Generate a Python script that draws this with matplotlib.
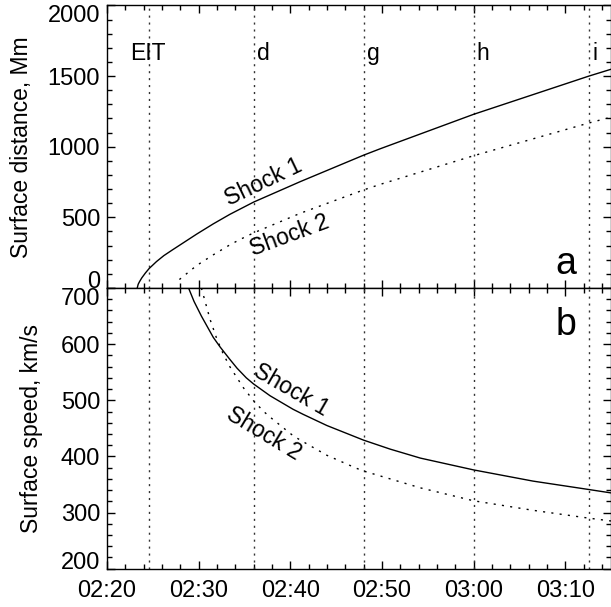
import matplotlib
matplotlib.use("Agg")
import matplotlib.pyplot as plt

plt.rcParams['font.family'] = ['Liberation Sans', 'DejaVu Sans']

# time in minutes after 02:20 UT
tick_minutes = [0, 10, 20, 30, 40, 50]
tick_labels = ["02:20", "02:30", "02:40", "02:50", "03:00", "03:10"]

# vertical event lines
event_times = [4.6, 16.0, 28.0, 40.0, 52.6]
event_names = ["EIT", "d", "g", "h", "i"]

# panel a: surface distance (Mm)
t_dist1 = [3.3, 3.4, 3.55, 3.8, 4.2, 4.6, 5.4, 6.2, 7.1, 8.0, 9.8, 11.6, 13.4, 16.0,
           21.1, 28.0, 29.8, 40.0, 52.6, 55.0]
dist1 = [0, 26, 45, 72, 107, 138, 187, 229, 268, 306, 382, 454, 521, 608,
         753, 940, 985, 1229, 1500, 1548]
t_dist2 = [7.9, 9.8, 11.6, 13.4, 14.5, 16.0, 21.1, 28.0, 29.8, 40.0, 52.6, 55.0]
dist2 = [60, 160, 235, 305, 343, 390, 529, 694, 733, 936, 1168, 1209]

# panel b: surface speed (km/s)
t_speed1 = [8.9, 9.5, 10.3, 11.6, 12.34, 13.4, 14.2, 15.2, 16.0, 17.8, 20.3, 21.4, 24.0,
            28.0, 30.9, 34.2, 40.0, 46.5, 52.6, 55.0]
speed1 = [700, 676, 650, 612, 595, 573, 557, 540, 529, 508, 484, 475, 455,
          429, 413, 397, 376, 356, 341, 335]
t_speed2 = [10.3, 11.25, 11.97, 12.7, 13.4, 14.9, 16.0, 17.1, 17.8, 20.3, 21.1, 24.0,
            27.2, 28.0, 34.2, 40.0, 46.5, 52.6, 55.0]
speed2 = [700, 644, 610, 582, 560, 522, 499, 480, 470, 437, 429, 402,
          379, 374, 344, 321, 304, 290, 285]

W, H = 611, 607
fig = plt.figure(figsize=(W / 100, H / 100), dpi=100)
left = 107 / W
width = (611 - 107) / W
ax1 = fig.add_axes([left, (H - 288) / H, width, (288 - 5.4) / H])
ax2 = fig.add_axes([left, (H - 568.7) / H, width, (568.7 - 288) / H])

FS = 16.5
TFS = 17
solid_kw = dict(color='black', lw=1.0, solid_joinstyle='round')
dot_kw = dict(color='black', lw=1.0, linestyle=(0, (1.5, 4.5)))
vline_kw = dict(color='#333333', lw=1.0, linestyle=(0, (1.5, 3.5)))

for ax in (ax1, ax2):
    ax.set_xlim(0, 55)
    ax.set_xticks(tick_minutes)
    ax.set_xticks(range(0, 56, 2), minor=True)
    ax.tick_params(which='both', direction='in', top=True, right=True, width=1.0,
                   labelsize=TFS)
    ax.tick_params(which='major', length=6)
    ax.tick_params(which='minor', length=3.5)
    ax.tick_params(axis='x', pad=8)
    ax.tick_params(axis='y', pad=5)
    for s in ax.spines.values():
        s.set_linewidth(1.0)
    for t in event_times:
        ax.axvline(t, **vline_kw)

ax1.set_xticklabels([])
ax2.set_xticklabels(tick_labels)

# panel a
ax1.plot(t_dist1, dist1, **solid_kw)
ax1.plot(t_dist2, dist2, **dot_kw)
ax1.set_ylim(0, 2000)
ax1.set_yticks([0, 500, 1000, 1500, 2000])
ax1.set_yticks(range(0, 2001, 100), minor=True)
ax1.set_ylabel("Surface distance, Mm", fontsize=FS)
ax1.yaxis.set_label_coords(-0.146, 0.5)
for name, t in zip(event_names, event_times):
    if name == "EIT":
        ax1.text(t - 0.1, 1663, name, ha='center', va='center', fontsize=FS)
    else:
        ax1.text(t + 0.35, 1663, name, ha='left', va='center', fontsize=FS)
ax1.text(17.1, 750, "Shock 1", rotation=25.6, ha='center', va='center',
         rotation_mode='anchor', fontsize=FS)
ax1.text(19.9, 368, "Shock 2", rotation=20.3, ha='center', va='center',
         rotation_mode='anchor', fontsize=FS)
ax1.text(50.1, 99, "a", ha='center', va='baseline', fontsize=27)

# panel b
ax2.plot(t_speed1, speed1, **solid_kw)
ax2.plot(t_speed2, speed2, **dot_kw)
ax2.set_ylim(200, 700)
ax2.set_yticks([200, 300, 400, 500, 600, 700])
ax2.set_yticks(range(200, 701, 20), minor=True)
ax2.set_ylabel("Surface speed, km/s", fontsize=FS)
ax2.yaxis.set_label_coords(-0.127, 0.5)
ax2.text(20.1, 518, "Shock 1", rotation=-30, ha='center', va='center',
         rotation_mode='anchor', fontsize=FS)
ax2.text(17.1, 440, "Shock 2", rotation=-31, ha='center', va='center',
         rotation_mode='anchor', fontsize=FS)
ax2.text(50.1, 616, "b", ha='center', va='baseline', fontsize=27)

# extreme tick labels shifted inward, as in the original
lab1 = ax1.yaxis.get_major_ticks()
lab1[0].label1.set_verticalalignment('baseline')
lab1[-1].label1.set_verticalalignment('top')
lab2 = ax2.yaxis.get_major_ticks()
lab2[0].label1.set_verticalalignment('baseline')
lab2[-1].label1.set_verticalalignment('top')

fig.savefig("out.png", dpi=100)
